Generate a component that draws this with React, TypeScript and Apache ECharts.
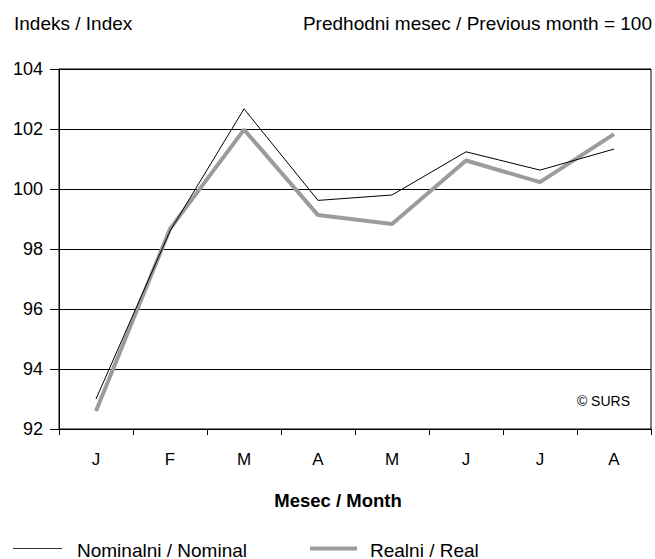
import React, { useEffect, useRef } from "react";
import * as echarts from "echarts";

const categories = ["J", "F", "M", "A", "M", "J", "J", "A"];
const nominal = [93.0, 98.6, 102.67, 99.62, 99.8, 101.24, 100.63, 101.33];
const real = [92.6, 98.67, 101.98, 99.13, 98.83, 100.95, 100.23, 101.83];
const yTicks = { min: 92, max: 104, interval: 2 };
const seriesNames = ["Nominalni / Nominal", "Realni / Real"];

const FONT = "Liberation Sans, Arial, sans-serif";
const GRAY = "#9c9c9c";

export default function App() {
  const ref = useRef<HTMLDivElement>(null);
  useEffect(() => {
    document.body.style.margin = "0";
    const chart = echarts.init(ref.current!, null, { renderer: "svg" });
    const txt = (text: string, x: number, y: number, size: number, align: string, weight = "normal") => ({
      type: "text",
      x,
      y,
      style: {
        text,
        fontFamily: FONT,
        fontSize: size,
        fontWeight: weight,
        fill: "#000",
        textAlign: align,
        textVerticalAlign: "middle",
      },
    });
    chart.setOption({
      animation: false,
      backgroundColor: "#fff",
      textStyle: { fontFamily: FONT, color: "#000" },
      grid: {
        left: 59,
        right: 4,
        top: 69,
        bottom: 130,
        show: true,
        borderColor: "#000",
        borderWidth: 1,
      },
      graphic: [
        txt("Indeks / Index", 14, 23, 19, "left"),
        txt("Predhodni mesec / Previous month = 100", 652, 23, 19, "right"),
        txt("Mesec / Month", 338, 500, 18.5, "center", "bold"),
        txt("© SURS", 630, 401, 14, "right"),
        {
          type: "line",
          shape: { x1: 13, y1: 548.5, x2: 62, y2: 548.5 },
          style: { stroke: "#333", lineWidth: 1 },
        },
        txt(seriesNames[0], 77, 550, 19, "left"),
        {
          type: "line",
          shape: { x1: 310, y1: 548.5, x2: 357, y2: 548.5 },
          style: { stroke: GRAY, lineWidth: 4 },
        },
        txt(seriesNames[1], 370, 550, 19, "left"),
      ],
      xAxis: {
        type: "category",
        data: categories,
        boundaryGap: true,
        axisLine: { lineStyle: { color: "#000", width: 1 } },
        axisTick: { show: true, length: 6, inside: false, lineStyle: { color: "#000" } },
        axisLabel: { fontFamily: FONT, fontSize: 17, color: "#000", margin: 22 },
      },
      yAxis: {
        type: "value",
        min: yTicks.min,
        max: yTicks.max,
        interval: yTicks.interval,
        axisLine: { show: true, lineStyle: { color: "#000", width: 1 } },
        axisTick: { show: true, length: 9, lineStyle: { color: "#000" } },
        axisLabel: { fontFamily: FONT, fontSize: 18, color: "#000", margin: 16 },
        splitLine: { show: true, lineStyle: { color: "#000", width: 1 } },
      },
      series: [
        {
          name: seriesNames[0],
          type: "line",
          data: nominal,
          symbol: "none",
          lineStyle: { color: "#000", width: 1 },
          itemStyle: { color: "#000" },
          z: 3,
        },
        {
          name: seriesNames[1],
          type: "line",
          data: real,
          symbol: "none",
          lineStyle: { color: GRAY, width: 4 },
          itemStyle: { color: GRAY },
          z: 2,
        },
      ],
    });
    return () => chart.dispose();
  }, []);
  return <div ref={ref} style={{ width: 655, height: 559 }} />;
}
